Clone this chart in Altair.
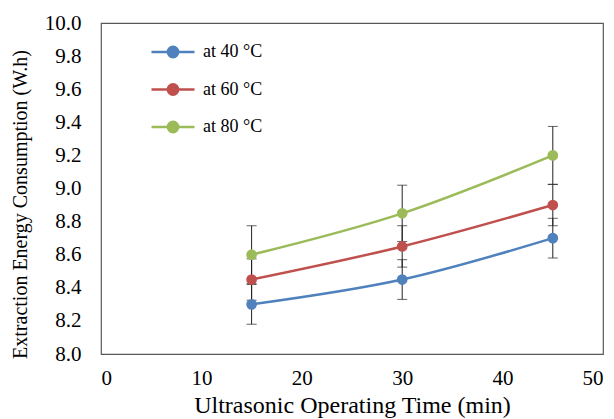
import altair as alt
import pandas as pd

times = [15, 30, 45]
series = ["at 40 °C", "at 60 °C", "at 80 °C"]
energy_40 = [8.30, 8.45, 8.70]
energy_60 = [8.45, 8.65, 8.90]
energy_80 = [8.60, 8.85, 9.20]
err_40 = [0.12, 0.12, 0.12]
err_60 = [0.125, 0.125, 0.125]
err_80 = [0.175, 0.17, 0.175]
colors = ["#4F81BD", "#C0504D", "#9BBB59"]
x_ticks = [0, 10, 20, 30, 40, 50]
y_ticks = [8.0, 8.2, 8.4, 8.6, 8.8, 9.0, 9.2, 9.4, 9.6, 9.8, 10.0]

rows = []
for s, vals, errs in zip(series, [energy_40, energy_60, energy_80], [err_40, err_60, err_80]):
    for t, v, e in zip(times, vals, errs):
        rows.append({"time": t, "series": s, "energy": v, "lo": v - e, "hi": v + e})
df = pd.DataFrame(rows)

FONT = "Liberation Serif"

xscale = alt.Scale(domain=[0, 50], zero=False)
yscale = alt.Scale(domain=[8.0, 10.0], zero=False)

xaxis = alt.Axis(values=x_ticks, title="Ultrasonic Operating Time (min)",
                 ticks=False, domain=False, grid=False, labelPadding=13,
                 labelOverlap=False, titlePadding=5, titleFontSize=24)
yaxis = alt.Axis(values=y_ticks, format=".1f", title="Extraction Energy Consumption (W.h)",
                 ticks=False, domain=False, grid=False, labelPadding=20,
                 labelOverlap=False, titlePadding=14, titleFontSize=20, titleY=181)

cscale = alt.Scale(domain=series, range=colors)
color = alt.Color("series:N", scale=cscale,
                  legend=alt.Legend(title=None, orient="none", legendX=49, legendY=6,
                                    symbolType="M-1,0L1,0M-0.24,0A0.24,0.24,0,1,1,0.24,0A0.24,0.24,0,1,1,-0.24,0Z",
                                    symbolSize=1849, symbolStrokeWidth=2.5,
                                    labelFont=FONT, labelFontSize=18, labelColor="#000000",
                                    labelOffset=7, rowPadding=3.5, padding=0))

base = alt.Chart(df)

X = alt.X("time:Q", scale=xscale, axis=xaxis)

err_rules = base.mark_rule(color="#222222", strokeWidth=1).encode(
    x=X, y=alt.Y("lo:Q", scale=yscale, axis=yaxis), y2="hi:Q")
caps_lo = base.mark_tick(color="#222222", thickness=1, size=10, orient="horizontal").encode(
    x=X, y=alt.Y("lo:Q", scale=yscale, axis=yaxis))
caps_hi = base.mark_tick(color="#222222", thickness=1, size=10, orient="horizontal").encode(
    x=X, y=alt.Y("hi:Q", scale=yscale, axis=yaxis))

lines = base.mark_line(strokeWidth=2.5, interpolate="monotone").encode(
    x=X, y=alt.Y("energy:Q", scale=yscale, axis=yaxis), color=color, detail="series:N")
points = base.mark_circle(size=115, opacity=1).encode(
    x=X, y=alt.Y("energy:Q", scale=yscale, axis=yaxis),
    color=alt.Color("series:N", scale=cscale, legend=None))

chart = alt.layer(err_rules, caps_lo, caps_hi, lines, points).properties(
    width=502, height=331,
    autosize=alt.AutoSizeParams(type="none"),
    padding={"left": 101, "top": 23, "right": 11, "bottom": 65},
    background="white",
).configure_view(stroke="#595959", strokeWidth=1.2).configure_axis(
    labelFont=FONT, labelFontSize=21, labelColor="#000000",
    titleFont=FONT, titleColor="#000000", titleFontWeight="normal",
)

chart.save("out.html", embed_options={"renderer": "svg", "actions": False})
